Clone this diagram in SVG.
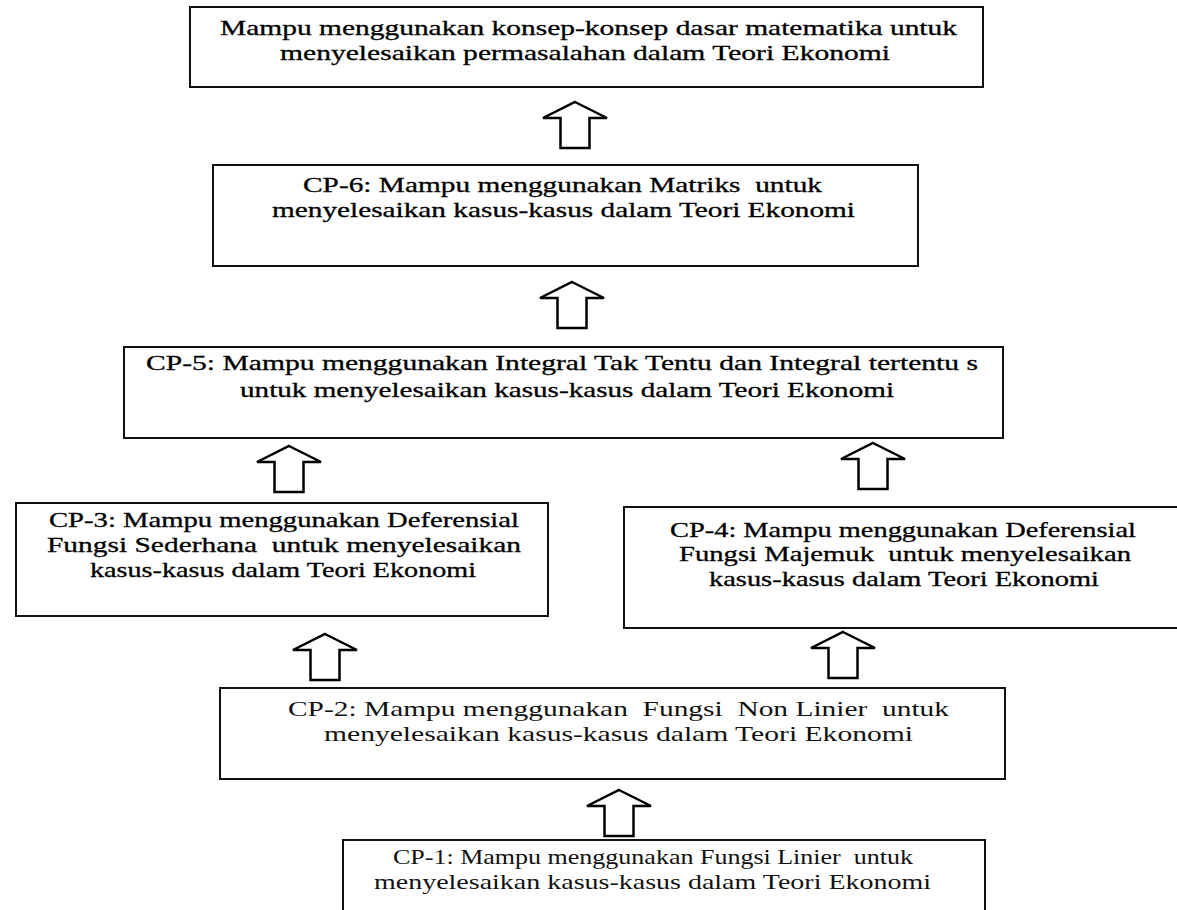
<svg xmlns="http://www.w3.org/2000/svg" width="1177" height="910" viewBox="0 0 1177 910">
<style>
.box{fill:#fff;stroke:#111;stroke-width:2}
.t{font-family:"Liberation Serif","Times New Roman",serif;font-size:21px;fill:#000;stroke:#000;stroke-width:0.3;text-anchor:middle;white-space:pre}
.t2{font-family:"Liberation Serif","Times New Roman",serif;font-size:21px;fill:#111;text-anchor:middle;white-space:pre}
.arr{fill:#fff;stroke:#000;stroke-width:2.5;stroke-linejoin:miter}
</style>
<defs>
<path id="up" d="M0,0 L32,16 L14.5,16 L14.5,46 L-14.5,46 L-14.5,16 L-32,16 Z"/>
</defs>
<rect width="1177" height="910" fill="#fff"/>
<g id="connectors">
<use href="#up" class="arr" x="575" y="102"/>
<use href="#up" class="arr" x="572" y="282"/>
<use href="#up" class="arr" x="289" y="446"/>
<use href="#up" class="arr" x="873" y="443"/>
<use href="#up" class="arr" x="325" y="634"/>
<use href="#up" class="arr" x="843" y="632"/>
<use href="#up" class="arr" x="619" y="790"/>
</g>
<g id="goal">
<rect class="box" x="190" y="7" width="793" height="80"/>
<text class="t" x="588.5" y="35" textLength="737" lengthAdjust="spacingAndGlyphs">Mampu menggunakan konsep-konsep dasar matematika untuk</text>
<text class="t" x="585" y="60" textLength="610" lengthAdjust="spacingAndGlyphs">menyelesaikan permasalahan dalam Teori Ekonomi</text>
</g>
<g id="cp6">
<rect class="box" x="213" y="165" width="705" height="101"/>
<text class="t" x="562.5" y="192" textLength="519" lengthAdjust="spacingAndGlyphs">CP-6: Mampu menggunakan Matriks  untuk</text>
<text class="t" x="563.5" y="217" textLength="583" lengthAdjust="spacingAndGlyphs">menyelesaikan kasus-kasus dalam Teori Ekonomi</text>
</g>
<g id="cp5">
<rect class="box" x="124" y="347" width="879" height="91"/>
<text class="t" x="562" y="370" textLength="832" lengthAdjust="spacingAndGlyphs">CP-5: Mampu menggunakan Integral Tak Tentu dan Integral tertentu s</text>
<text class="t" x="567" y="397" textLength="654" lengthAdjust="spacingAndGlyphs">untuk menyelesaikan kasus-kasus dalam Teori Ekonomi</text>
</g>
<g id="cp3">
<rect class="box" x="16" y="503" width="532" height="113"/>
<text class="t" x="284" y="527" textLength="470" lengthAdjust="spacingAndGlyphs">CP-3: Mampu menggunakan Deferensial</text>
<text class="t" x="284" y="552" textLength="474" lengthAdjust="spacingAndGlyphs">Fungsi Sederhana  untuk menyelesaikan</text>
<text class="t" x="283" y="577" textLength="386" lengthAdjust="spacingAndGlyphs">kasus-kasus dalam Teori Ekonomi</text>
</g>
<g id="cp4">
<rect class="box" x="624" y="507" width="560" height="121"/>
<text class="t" x="903" y="537" textLength="466" lengthAdjust="spacingAndGlyphs">CP-4: Mampu menggunakan Deferensial</text>
<text class="t" x="905" y="561" textLength="452" lengthAdjust="spacingAndGlyphs">Fungsi Majemuk  untuk menyelesaikan</text>
<text class="t" x="904" y="586" textLength="390" lengthAdjust="spacingAndGlyphs">kasus-kasus dalam Teori Ekonomi</text>
</g>
<g id="cp2">
<rect class="box" x="220" y="688" width="785" height="91"/>
<text class="t2" x="618.5" y="716" textLength="661" lengthAdjust="spacingAndGlyphs">CP-2: Mampu menggunakan  Fungsi  Non Linier  untuk</text>
<text class="t2" x="618.5" y="741" textLength="589" lengthAdjust="spacingAndGlyphs">menyelesaikan kasus-kasus dalam Teori Ekonomi</text>
</g>
<g id="cp1">
<rect class="box" x="343" y="840" width="642" height="80"/>
<text class="t2" x="653" y="864" textLength="520" lengthAdjust="spacingAndGlyphs">CP-1: Mampu menggunakan Fungsi Linier  untuk</text>
<text class="t2" x="652.5" y="889" textLength="557" lengthAdjust="spacingAndGlyphs">menyelesaikan kasus-kasus dalam Teori Ekonomi</text>
</g>
</svg>
